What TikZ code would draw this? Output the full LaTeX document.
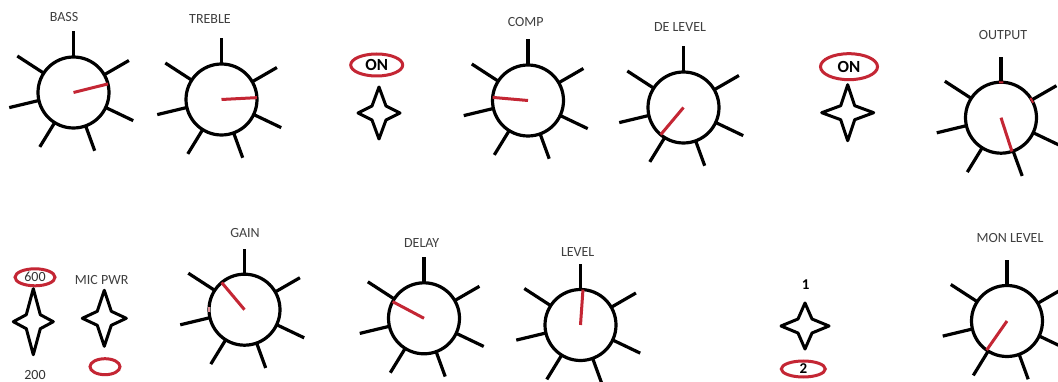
\documentclass[tikz,border=0pt]{standalone}
\usepackage{fontspec}
\setmainfont{Carlito}
\usetikzlibrary{shapes.geometric}
\definecolor{knobred}{RGB}{196,38,52}
\definecolor{labelgray}{RGB}{64,64,64}
\tikzset{
  knobcircle/.style={draw=black, circle, line width=3.2pt, minimum size=71pt, inner sep=0pt, outer sep=0pt},
  tickline/.style={line width=3.2pt, black},
  ptr/.style={line width=3pt, knobred},
  lbl/.style={font=\fontsize{14}{15}\selectfont, text=labelgray, inner sep=0pt},
  switchstar/.style={line width=3pt, line join=round},
  selring/.style={draw=knobred, ellipse, line width=3pt, inner sep=0pt, outer sep=0pt},
  onlbl/.style={font=\bfseries\fontsize{17}{18}\selectfont},
  numlbl/.style={font=\bfseries\fontsize{15}{16}\selectfont, inner sep=0pt},
}
% name, x, y, pointer angle, label, label x, label y
\newcommand\myknob[7]{%
  \node[knobcircle] (#1) at (#2,-#3) {};
  \foreach \a/\l in {90/61,30/64,-25.5/66,-70/62,238.5/64,193.5/66,147/67}
    \draw[tickline] (#1.\a) -- ++(\a:{\l-35.5});
  \draw[ptr] (#1.center) -- (#1.#4);
  \node[lbl] (#1-lbl) at (#6,-#7) {#5};
}
% name, x, y, half width, half height
\newcommand\mystar[5]{%
  \coordinate (#1) at (#2,-#3);
  \draw[switchstar] ([shift={(0,#5)}]#1) -- ([shift={(7,7)}]#1) -- ([shift={(#4,0)}]#1)
    -- ([shift={(7,-7)}]#1) -- ([shift={(0,-#5)}]#1) -- ([shift={(-7,-7)}]#1)
    -- ([shift={(-#4,0)}]#1) -- ([shift={(-7,7)}]#1) -- cycle;
}
\begin{document}
\begin{tikzpicture}[x=1pt,y=1pt]
\useasboundingbox (0,0) rectangle (1058,-382);
\fill[white] (0,0) rectangle (1058,-382);

% top row knobs
\myknob{bass}{73.5}{92.5}{14}{BASS}{64}{17}
\myknob{treble}{221.5}{99.5}{3}{TREBLE}{210}{19}
\myknob{comp}{528}{100.5}{175}{COMP}{525.7}{21.7}
\myknob{delevel}{683.5}{107.5}{230}{DE LEVEL}{680}{26.7}
\myknob{output}{1001}{117.7}{-72}{OUTPUT}{1003}{35}
\draw[ptr, line width=2pt] (output.86) -- (output.93);
\draw[ptr, line width=2pt] (output.25) -- (output.34);

% bottom row knobs
\myknob{gain}{244.5}{309.7}{130}{GAIN}{245}{232.7}
\draw[ptr, line width=1.5pt, knobred!50] (gain.176) -- (gain.184);
\myknob{delay}{424}{318.3}{152}{DELAY}{421.7}{243.3}
\myknob{level}{580.5}{325}{86}{LEVEL}{577.7}{251.7}
\myknob{monlevel}{1007}{321}{235}{MON LEVEL}{1010}{238.3}

% switches
\node[selring, minimum width=52pt, minimum height=22pt, onlbl] (on1) at (376.7,-65) {ON};
\mystar{s1}{379}{113}{21}{26}
\node[selring, minimum width=57pt, minimum height=26pt, onlbl] (on2) at (849,-66.7) {ON};
\mystar{s2}{847.7}{112.7}{26}{28}

\node[selring, minimum width=40pt, minimum height=17pt, lbl, text=black!80] (r600) at (35,-277.3) {600};
\mystar{s3}{33.3}{321.7}{20}{33}
\node[lbl, text=black!80] (t200) at (35,-375.5) {200};

\node[lbl] (micpwr) at (101.7,-280) {MIC PWR};
\mystar{s4}{104.3}{318.3}{22}{28}
\node[selring, minimum width=30pt, minimum height=16pt] (rmic) at (105,-366.7) {};

\node[numlbl] (t1) at (805.7,-285) {1};
\mystar{s5}{805}{326}{24}{23}
\node[selring, minimum width=44pt, minimum height=16pt, numlbl] (r2) at (803.3,-369) {2};
\end{tikzpicture}
\end{document}
